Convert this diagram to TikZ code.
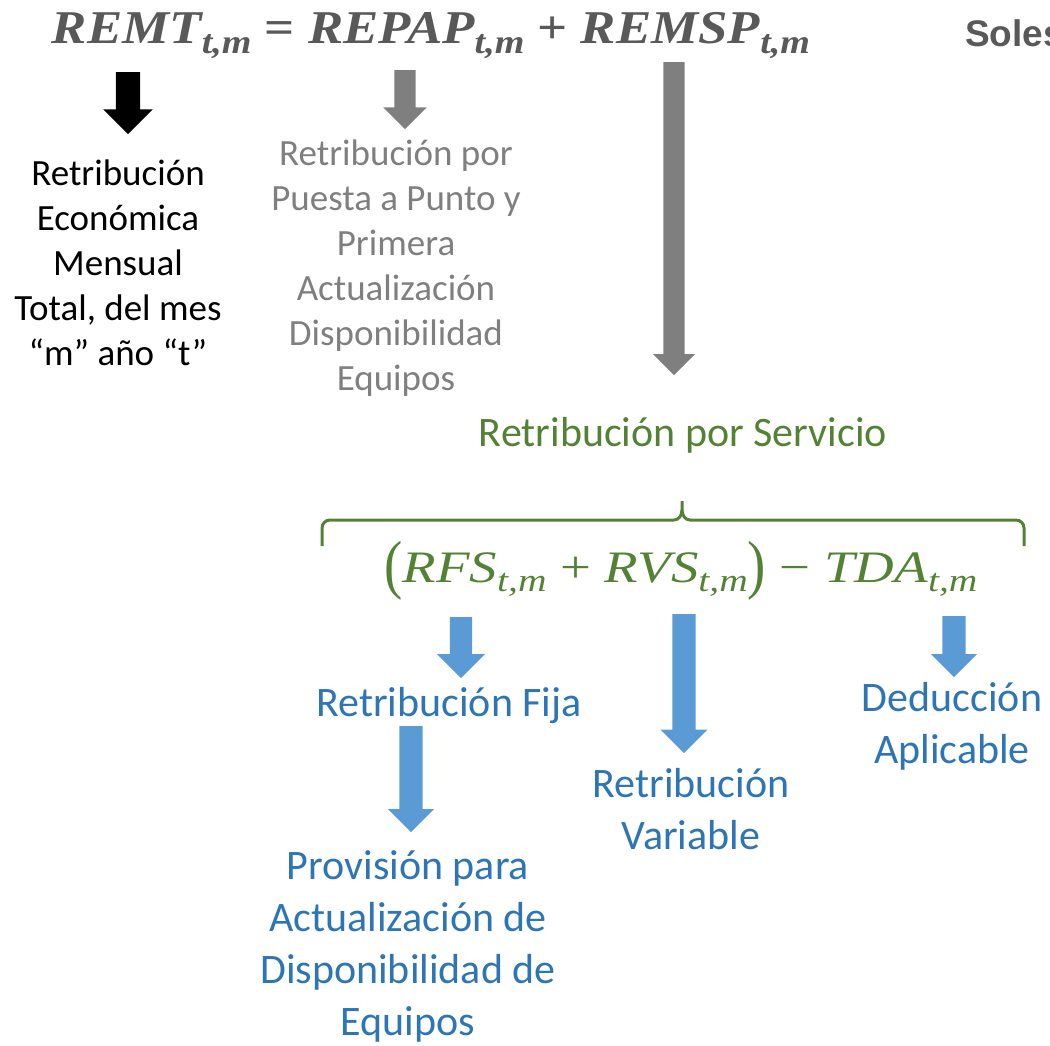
\documentclass[tikz,border=0pt]{standalone}
\usepackage{fontspec}
\usepackage{graphicx}
\setmainfont{Carlito}
\newfontfamily\arialfont{Liberation Sans}
\newfontfamily\formfont{Liberation Serif}
\usetikzlibrary{shapes.arrows}

\definecolor{formulagray}{HTML}{595959}
\definecolor{textgray}{HTML}{7F7F7F}
\definecolor{servgreen}{HTML}{548235}
\definecolor{textblue}{HTML}{2E75B6}
\definecolor{arrowblue}{HTML}{5B9BD5}

\newcommand{\tmsub}{\raisebox{-0.2em}{\scalebox{0.72}{t,m}}}
\newcommand{\bigparen}[1]{\raisebox{-0.1em}{\scalebox{1}[1.45]{\upshape #1}}}

\begin{document}
\begin{tikzpicture}[x=1pt,y=1pt]
    \tikzstyle{blockarrow}=[single arrow,draw=none,rotate=-90,anchor=tail,inner xsep=0pt]
    \tikzstyle{smalltext}=[align=center,font=\fontsize{37}{45}\selectfont]
    \tikzstyle{bigtext}=[align=center,font=\fontsize{42}{52}\selectfont]

    \useasboundingbox (0,0) rectangle (1050,-1046);

    % Draw main equation
    \node[anchor=base,text=formulagray,inner sep=0pt,
          font=\formfont\bfseries\itshape\fontsize{47}{56}\selectfont] (remt) at (431,-44)
        {\resizebox{758pt}{\height}{REMT\tmsub\ {\upshape =} REPAP\tmsub\ {\upshape +} REMSP\tmsub}};
    \node[anchor=base west,text=formulagray,inner sep=0pt,
          font=\arialfont\bfseries\fontsize{37}{44}\selectfont] (soles) at (965,-47) {Soles};

    % Draw arrows below the terms
    \node[blockarrow,fill=black,minimum height=62pt,minimum width=49pt,inner ysep=12pt,
          single arrow head extend=12.5pt] (arrremt) at (128,-72) {};
    \node[blockarrow,fill=textgray,minimum height=59pt,minimum width=43pt,inner ysep=10.5pt,
          single arrow head extend=11pt] (arrrepap) at (405,-70) {};
    \node[blockarrow,fill=textgray,minimum height=313pt,minimum width=42pt,inner ysep=10.5pt,
          single arrow head extend=10.5pt] (arrremsp) at (674,-62) {};

    % Texts of the terms
    \node[smalltext] (remttext) at (118,-263)
        {Retribución\\Económica\\Mensual\\Total, del mes\\“m” año “t”};
    \node[smalltext,text=textgray] (repaptext) at (396,-268.5)
        {Retribución por\\Puesta a Punto y\\Primera\\Actualización\\Disponibilidad\\Equipos};
    \node[bigtext,text=servgreen] (remsptext) at (683,-435) {Retribución por Servicio};

    % Draw brace over service formula
    \draw[servgreen,line width=3pt]
        (322,-546) -- (322,-528) to[out=90,in=180] (330,-520) -- (674,-520)
        to[out=0,in=-90] (682,-510) -- (682,-501);
    \draw[servgreen,line width=3pt]
        (682,-510) to[out=-90,in=180] (690,-520) -- (1016,-520)
        to[out=0,in=90] (1024,-528) -- (1024,-546);
    \node[anchor=base,text=servgreen,inner sep=0pt,
          font=\formfont\itshape\fontsize{45}{54}\selectfont] (servicio) at (681,-582)
        {\resizebox{593pt}{\height}{\bigparen{(}RFS\tmsub\ {\upshape +} RVS\tmsub\bigparen{)}\ {\upshape −} TDA\tmsub}};

    % Draw arrows below the service terms
    \node[blockarrow,fill=arrowblue,minimum height=61pt,minimum width=48pt,inner ysep=11pt,
          single arrow head extend=13pt] (arrrfs) at (461,-617) {};
    \node[blockarrow,fill=arrowblue,minimum height=106pt,minimum width=46pt,inner ysep=11.5pt,
          single arrow head extend=11.5pt] (arrprov) at (411,-726) {};
    \node[blockarrow,fill=arrowblue,minimum height=139pt,minimum width=47pt,inner ysep=11.5pt,
          single arrow head extend=12pt] (arrrvs) at (684,-614) {};
    \node[blockarrow,fill=arrowblue,minimum height=61pt,minimum width=46pt,inner ysep=11.5pt,
          single arrow head extend=11.5pt] (arrtda) at (954,-616) {};

    % Texts of the service terms
    \node[bigtext,text=textblue] (rfstext) at (449,-706) {Retribución Fija};
    \node[bigtext,text=textblue] (provtext) at (408,-946)
        {Provisión para\\Actualización de\\Disponibilidad de\\Equipos};
    \node[bigtext,text=textblue] (rvstext) at (691,-809.5) {Retribución\\Variable};
    \node[bigtext,text=textblue] (tdatext) at (952,-726) {Deducción\\Aplicable};
\end{tikzpicture}
\end{document}
